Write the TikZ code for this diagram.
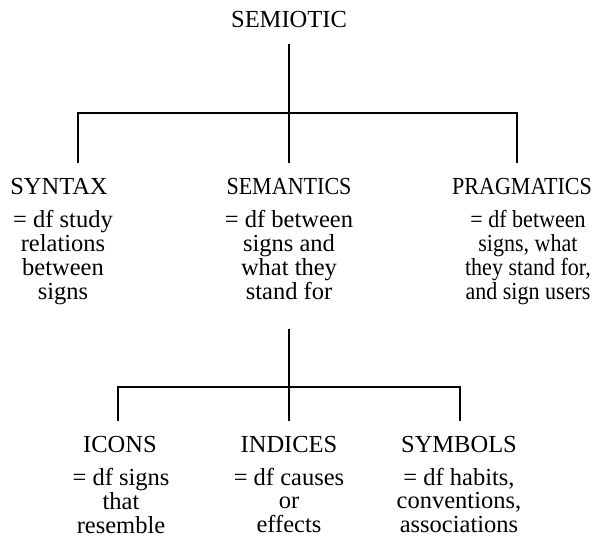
\documentclass[tikz,border=0pt]{standalone}
\usepackage{fontspec}
\setmainfont{Liberation Serif}
\newfontfamily\narrowfont[FakeStretch=0.9]{Liberation Serif}
\newcommand{\deflines}[1]{\begin{tabular}[t]{@{}c@{}}#1\end{tabular}}
\begin{document}
\begin{tikzpicture}[x=1pt,y=-1pt,
  lbl/.style={anchor=base, inner sep=0pt, font=\fontsize{24.5}{24}\selectfont},
  narrowlbl/.style={anchor=base, inner sep=0pt, font=\fontsize{24.5}{24}\narrowfont},
  lowlbl/.style={anchor=base, inner sep=0pt, font=\fontsize{24.5}{23.5}\selectfont},
  conn/.style={draw=black, line width=1.3pt, line cap=rect}]
\useasboundingbox (0,0) rectangle (598,539);
% level 0
\node[lbl] (semiotic) at (289,27) {SEMIOTIC};
% level 1
\node[lbl] (syntax) at (59,194) {SYNTAX};
\node[narrowlbl] (semantics) at (289,194) {SEMANTICS};
\node[narrowlbl] (pragmatics) at (522,194) {PRAGMATICS};
\node[lbl] (syntaxdef) at (63,227) {\deflines{= df study\\relations\\between\\signs}};
\node[lbl] (semanticsdef) at (289,227) {\deflines{= df between\\signs and\\what they\\stand for}};
\node[narrowlbl] (pragmaticsdef) at (528,227) {\deflines{= df between\\signs, what\\they stand for,\\and sign users}};
% level 2
\node[lowlbl] (icons) at (120,452) {ICONS};
\node[lowlbl] (indices) at (289,452) {INDICES};
\node[lowlbl] (symbols) at (459,452) {SYMBOLS};
\node[lowlbl] (iconsdef) at (121,485) {\deflines{= df signs\\that\\resemble}};
\node[lowlbl] (indicesdef) at (289,485) {\deflines{= df causes\\or\\effects}};
\node[lowlbl] (symbolsdef) at (459,485) {\deflines{= df habits,\\conventions,\\associations}};
% connector points
\coordinate (top1) at (289,45);
\coordinate (mid1) at (289,113);
\coordinate (left1) at (78,113);
\coordinate (right1) at (517,113);
\coordinate (endL1) at (78,162);
\coordinate (endM1) at (289,162);
\coordinate (endR1) at (517,162);
\coordinate (top2) at (289,330);
\coordinate (mid2) at (289,387);
\coordinate (left2) at (118,387);
\coordinate (right2) at (460,387);
\coordinate (endL2) at (118,420);
\coordinate (endM2) at (289,420);
\coordinate (endR2) at (460,420);
% connectors
\draw[conn] (top1) -- (endM1);
\draw[conn] (endL1) -- (left1) -- (right1) -- (endR1);
\draw[conn] (top2) -- (endM2);
\draw[conn] (endL2) -- (left2) -- (right2) -- (endR2);
\end{tikzpicture}
\end{document}
